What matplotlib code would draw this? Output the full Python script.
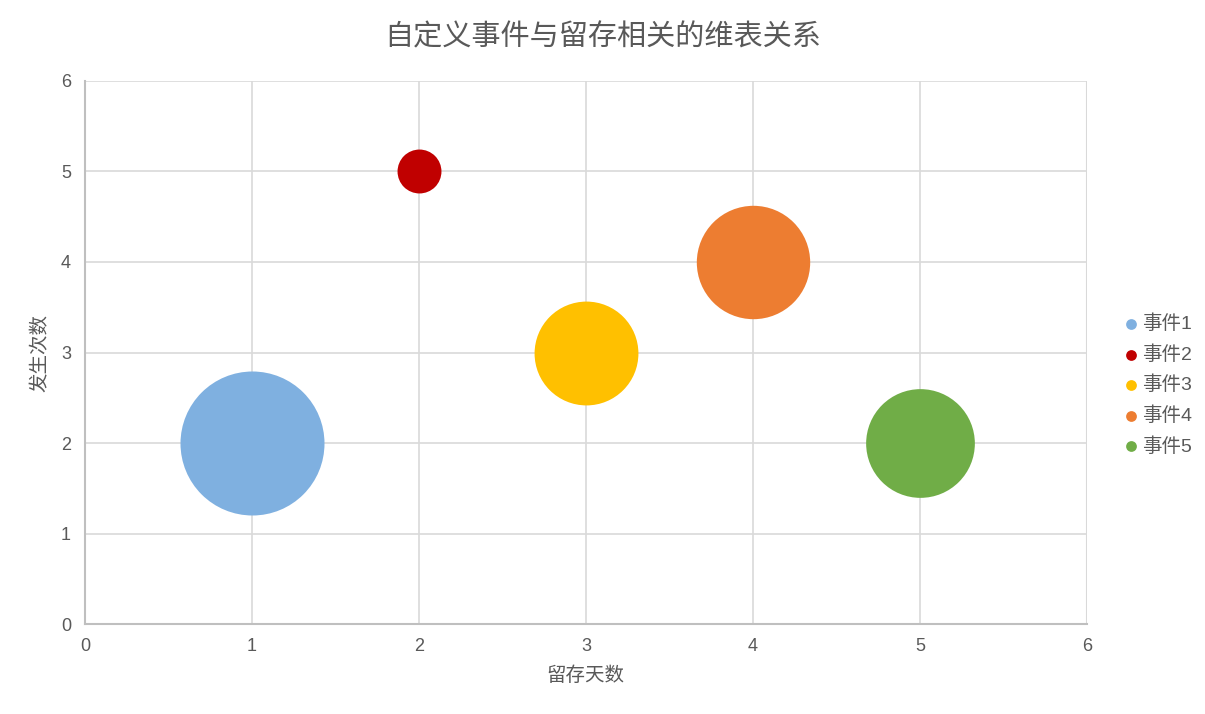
import matplotlib.pyplot as plt

plt.rcParams['font.family'] = ['Liberation Sans', 'Noto Sans CJK SC']

# data
events = ['事件1', '事件2', '事件3', '事件4', '事件5']
days = [1, 2, 3, 4, 5]
counts = [2, 5, 3, 4, 2]
bubble = [100, 9.3, 52, 62, 57]
colors = ['#7FB0E0', '#C00000', '#FFC000', '#ED7D31', '#70AD47']

text_c = '#595959'
scale = 107.5  # points^2 per bubble unit

fig = plt.figure(figsize=(12.05, 7.14), dpi=100)
ax = fig.add_axes([0.0705, 0.126, 0.8315, 0.7606])

for name, x, y, b, c in zip(events, days, counts, bubble, colors):
    ax.scatter(x, y, s=b * scale, color=c, label=name, zorder=3, linewidths=0)

ax.set_xlim(0, 6)
ax.set_ylim(0, 6)
ax.set_xticks(range(7))
ax.set_yticks(range(7))
ax.grid(True, color='#D9D9D9', linewidth=1.2, zorder=0)
ax.set_axisbelow(True)
for s in ['top', 'right']:
    ax.spines[s].set_visible(False)
ax.axvline(6, color='#D9D9D9', linewidth=1.5, zorder=0)
for s in ['left', 'bottom']:
    ax.spines[s].set_color('#BFBFBF')
    ax.spines[s].set_linewidth(1.5)
ax.tick_params(length=0, labelsize=13, colors=text_c, pad=10)

fig.suptitle('自定义事件与留存相关的维表关系', fontsize=21, color=text_c,
             x=0.5, y=0.947, va='center')
ax.set_xlabel('留存天数', fontsize=14, color=text_c, labelpad=8)
ax.set_ylabel('发生次数', fontsize=14, color=text_c, labelpad=8)

leg = ax.legend(loc='center left', bbox_to_anchor=(1.017, 0.44), frameon=False,
                fontsize=14, handletextpad=0.05,
                labelspacing=0.62, handlelength=1.0, labelcolor=text_c)
for h in leg.legend_handles:
    h.set_sizes([60])

fig.savefig('out.png', dpi=100)
